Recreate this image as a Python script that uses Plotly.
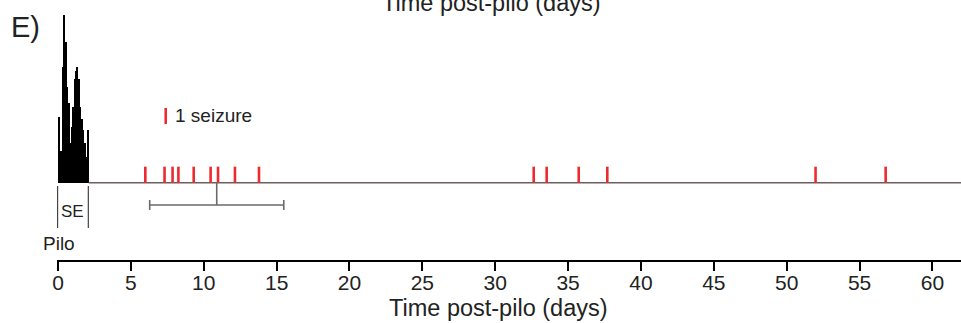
import plotly.graph_objects as go

# ---------------- data ----------------
# SE histogram: seizure counts per 0.1-day bin during status epilepticus
hist_bin_width = 0.1
hist_counts = [4.1, 1.6, 2.0, 7.25, 10.5, 8.8, 6.0, 5.0, 2.5, 3.5, 4.75,
               6.5, 7.0, 7.25, 6.5, 4.75, 4.0, 3.3, 2.5, 1.6, 3.3]
# individual spontaneous seizures (days post-pilo)
seizure_days = [5.99, 7.31, 7.86, 8.26, 9.31, 10.47, 10.98, 12.14, 13.79,
                32.64, 33.53, 35.73, 37.69, 51.98, 56.79]
# latency to first spontaneous seizure: mean +/- sd (days)
latency_mean = [10.89]
latency_sd = [4.6]
x_ticks = [0, 5, 10, 15, 20, 25, 30, 35, 40, 45, 50, 55, 60]
x_title = "Time post-pilo (days)"

# ---------------- build ----------------
hist_x = [hist_bin_width * (i + 0.5) for i in range(len(hist_counts))]
hist_end = hist_bin_width * len(hist_counts)
x_min = -0.07
x_max = 61.96

FONT = "Liberation Sans, Arial, sans-serif"
TXT = "#222222"
RED = "#ee2a2e"
GREY = "#6a6a6a"

fig = go.Figure()

# baseline
fig.add_trace(go.Scatter(x=[hist_end, x_max], y=[0, 0], mode="lines",
                         line=dict(color="#6e5e5e", width=1.6),
                         hoverinfo="skip", showlegend=False))

# SE histogram
fig.add_trace(go.Bar(x=hist_x, y=hist_counts, width=hist_bin_width,
                     marker=dict(color="black", line=dict(width=0)),
                     showlegend=False))

# seizure ticks
sx, sy = [], []
for d in seizure_days:
    sx += [d, d, None]
    sy += [0, 1, None]
fig.add_trace(go.Scatter(x=sx, y=sy, mode="lines",
                         line=dict(color=RED, width=2.6),
                         hoverinfo="skip", showlegend=False))

# latency mean +/- sd
err_y = -1.39
fig.add_trace(go.Scatter(x=[latency_mean[0], latency_mean[0]], y=[0, err_y],
                         mode="lines", line=dict(color=GREY, width=1.6),
                         hoverinfo="skip", showlegend=False))
fig.add_trace(go.Scatter(x=latency_mean, y=[err_y], mode="markers",
                         marker=dict(size=1, color=GREY, opacity=0),
                         error_x=dict(type="data", array=latency_sd, color=GREY,
                                      thickness=1.6, width=5),
                         hoverinfo="skip", showlegend=False))

shapes = [
    # SE bracket
    dict(type="line", xref="x", yref="y", x0=-0.03, x1=-0.03, y0=-0.21, y1=-2.83,
         line=dict(color="#444444", width=1.2)),
    dict(type="line", xref="x", yref="y", x0=hist_end - 0.02, x1=hist_end - 0.02,
         y0=-0.21, y1=-2.83, line=dict(color="#444444", width=1.2)),
    # legend key
    dict(type="line", xref="x", yref="y", x0=7.39, x1=7.39, y0=3.67, y1=4.67,
         line=dict(color=RED, width=2.6)),
]

annotations = [
    dict(text="1 seizure", x=7.87, y=4.17, xref="x", yref="y", xanchor="left",
         yanchor="middle", showarrow=False, font=dict(size=19, color=TXT, family=FONT)),
    dict(text="SE", x=0.96, y=-1.77, xref="x", yref="y", xanchor="center",
         yanchor="middle", showarrow=False, font=dict(size=17, color=TXT, family=FONT)),
    dict(text="Pilo", x=0.08, y=-3.77, xref="x", yref="y", xanchor="center",
         yanchor="middle", showarrow=False, font=dict(size=19, color=TXT, family=FONT)),
    dict(text="E)", x=-0.053, y=1.004, xref="paper", yref="paper", xanchor="left",
         yanchor="top", showarrow=False, font=dict(size=29, color=TXT, family=FONT)),
    dict(text=x_title, x=0.488, y=-0.192, xref="paper", yref="paper",
         xanchor="center", yanchor="middle", showarrow=False,
         font=dict(size=23.5, color=TXT, family=FONT)),
    dict(text=x_title, x=0.481, y=1.026, xref="paper", yref="paper",
         xanchor="center", yanchor="middle", showarrow=False,
         font=dict(size=23.5, color=TXT, family=FONT)),
]

fig.update_layout(
    width=961, height=323,
    margin=dict(l=57, r=0, t=10, b=63),
    paper_bgcolor="white", plot_bgcolor="white",
    bargap=0, barmode="overlay",
    shapes=shapes, annotations=annotations,
    xaxis=dict(range=[x_min, x_max], tickvals=x_ticks, ticktext=[str(t) for t in x_ticks],
               showline=True, linecolor="black", linewidth=2,
               ticks="outside", ticklen=9, tickwidth=2, tickcolor="black",
               ticklabelstandoff=-6,
               showgrid=False, zeroline=False,
               tickfont=dict(size=21, color=TXT, family=FONT)),
    yaxis=dict(range=[-4.83, 10.79], visible=False, showgrid=False, zeroline=False),
)

fig.write_html("out.html", config={"displayModeBar": False},
               post_script="document.body.style.margin='0';document.body.style.overflow='hidden';")
